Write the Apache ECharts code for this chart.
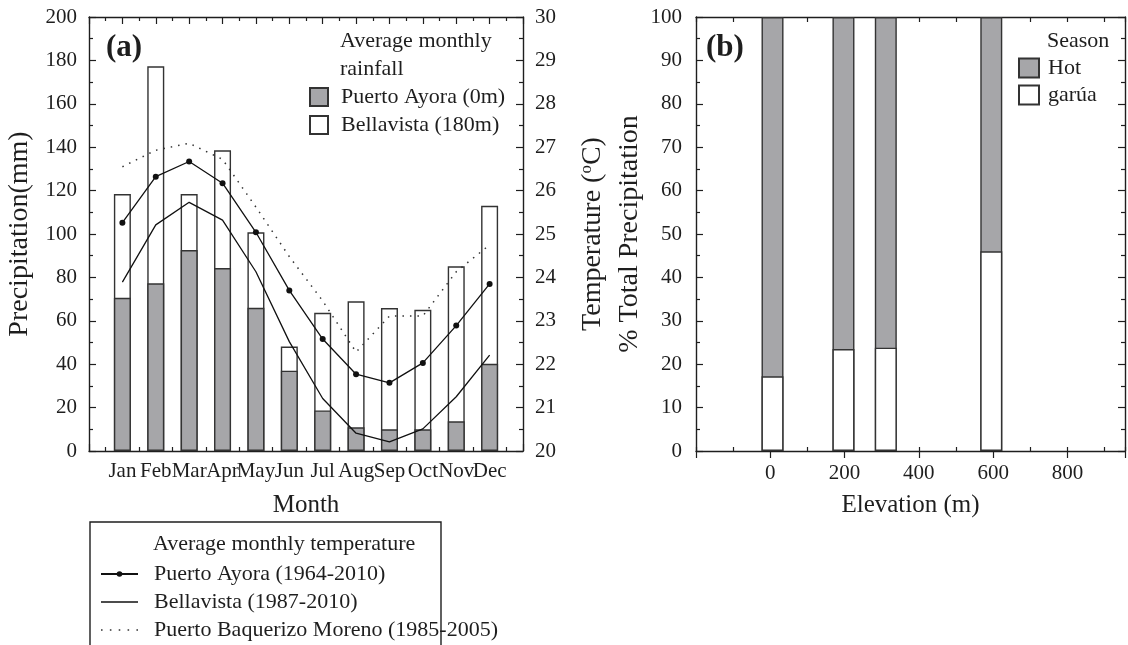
<!DOCTYPE html>
<html>
<head>
<meta charset="utf-8">
<script src="https://cdn.jsdelivr.net/npm/echarts@6/dist/echarts.min.js"></script>
<style>
  html, body { margin: 0; padding: 0; background: #fff; }
  #chart { width: 1128px; height: 645px; }
</style>
</head>
<body>
<div id="chart"></div>
<script>
// Panel (a): monthly climate
const months = ['Jan', 'Feb', 'Mar', 'Apr', 'May', 'Jun', 'Jul', 'Aug', 'Sep', 'Oct', 'Nov', 'Dec'];
const rainAyora = [70.6, 77.3, 92.6, 84.3, 66.0, 37.0, 18.7, 10.9, 10.0, 10.0, 13.7, 40.2];
const rainBellavista = [118.4, 177.3, 118.4, 138.6, 100.8, 48.1, 63.7, 69.0, 65.9, 65.1, 85.1, 113.0];
const tempAyora = [25.26, 26.32, 26.67, 26.17, 25.04, 23.70, 22.58, 21.77, 21.57, 22.03, 22.89, 23.85];
const tempBellavista = [23.89, 25.21, 25.73, 25.32, 24.13, 22.52, 21.21, 20.41, 20.21, 20.51, 21.25, 22.21];
const tempBaquerizo = [26.55, 26.93, 27.09, 26.72, 25.62, 24.48, 23.46, 22.28, 23.11, 23.11, 24.13, 24.75];

// Panel (b): share of rainfall by season at each elevation
const elevations = [6, 197, 311, 595];
const hotPct = [82.8, 76.5, 76.2, 54.0];
const garuaPct = [17.2, 23.5, 23.8, 46.0];

const FONT = '"Liberation Serif", "Times New Roman", serif';
const INK = '#1e1e1e';
const GREY = '#a6a6a9';
const EDGE = '#333';

const pairs = (xs, ys) => ys.map((v, i) => [xs[i], v]);
const monthPos = months.map((m, i) => i + 1);
// Hot share sits on top of the garúa share, so its bar reaches the running total
const hotTop = hotPct.map((v, i) => v + garuaPct[i]);

const axisLine = { show: true, onZero: false, lineStyle: { color: INK, width: 1.4 } };
const tickStyle = { color: INK, width: 1.2 };
const label = { color: INK, fontFamily: FONT, fontSize: 21 };
const nameStyle = { color: INK, fontFamily: FONT, fontSize: 25 };
const yNameStyle = { color: INK, fontFamily: FONT, fontSize: 28 };

// Legend glyphs for the plain and dotted temperature lines
const solidIcon = 'path://M0,0h37v1.3h-37z';
const dottedIcon = 'path://M0,0h1.6v1.6h-1.6z M9,0h1.6v1.6h-1.6z M18,0h1.6v1.6h-1.6z M27,0h1.6v1.6h-1.6z M36,0h1.6v1.6h-1.6z';

const chart = echarts.init(document.getElementById('chart'), null, { renderer: 'canvas' });

chart.setOption({
  animation: false,
  backgroundColor: '#fff',
  textStyle: { fontFamily: FONT, color: INK },
  grid: [
    { left: 89, top: 17, width: 434, height: 434 },
    { left: 696, top: 17, width: 433, height: 434 }
  ],
  xAxis: [
    { // (a) bottom
      type: 'value', gridIndex: 0, min: 0, max: 13, interval: 1,
      axisLine, splitLine: { show: false },
      axisTick: { inside: true, length: 7, lineStyle: tickStyle },
      minorTick: { show: true, splitNumber: 2, length: 4, lineStyle: tickStyle },
      axisLabel: Object.assign({}, label, { margin: 10, formatter: v => (v >= 1 && v <= 12) ? months[v - 1] : '' }),
      name: 'Month', nameLocation: 'middle', nameGap: 42, nameTextStyle: nameStyle
    },
    { // (a) top
      type: 'value', gridIndex: 0, position: 'top', min: 0, max: 13, interval: 1,
      axisLine, splitLine: { show: false },
      axisTick: { inside: true, length: 7, lineStyle: tickStyle },
      minorTick: { show: true, splitNumber: 2, length: 4, lineStyle: tickStyle },
      axisLabel: { show: false }
    },
    { // (b) bottom
      type: 'value', gridIndex: 1, min: -200, max: 955, interval: 100,
      axisLine, splitLine: { show: false },
      axisTick: { inside: true, length: 4, lineStyle: tickStyle },
      axisLabel: Object.assign({}, label, { margin: 12, formatter: v => (v >= 0 && v <= 800 && v % 200 === 0) ? String(v) : '' }),
      name: 'Elevation (m)', nameLocation: 'middle', nameGap: 42, nameTextStyle: nameStyle
    },
    { // (b) bottom, longer ticks every 200 m
      type: 'value', gridIndex: 1, min: -200, max: 955, interval: 200,
      axisLine: { show: false }, splitLine: { show: false },
      axisTick: { inside: true, length: 7, lineStyle: tickStyle },
      axisLabel: { show: false }
    },
    { // (b) top
      type: 'value', gridIndex: 1, position: 'top', min: -200, max: 955, interval: 100,
      axisLine, splitLine: { show: false },
      axisTick: { inside: true, length: 5, lineStyle: tickStyle },
      axisLabel: { show: false }
    }
  ],
  yAxis: [
    { // (a) precipitation
      type: 'value', gridIndex: 0, min: 0, max: 200, interval: 20,
      axisLine, splitLine: { show: false },
      axisTick: { inside: true, length: 7, lineStyle: tickStyle },
      minorTick: { show: true, splitNumber: 2, length: 4, lineStyle: tickStyle },
      axisLabel: Object.assign({}, label, { margin: 12 }),
      name: 'Precipitation(mm)', nameLocation: 'middle', nameGap: 55, nameTextStyle: yNameStyle
    },
    { // (a) temperature
      type: 'value', gridIndex: 0, position: 'right', min: 20, max: 30, interval: 1,
      axisLine, splitLine: { show: false },
      axisTick: { inside: true, length: 7, lineStyle: tickStyle },
      minorTick: { show: true, splitNumber: 2, length: 4, lineStyle: tickStyle },
      axisLabel: Object.assign({}, label, { margin: 12 }),
      name: 'Temperature ({sup|o}C)', nameLocation: 'middle', nameGap: 55,
      nameTextStyle: Object.assign({}, yNameStyle, {
        rich: { sup: { fontFamily: FONT, fontSize: 17, color: INK, verticalAlign: 'top', padding: [0, 0, 13, 0] } }
      })
    },
    { // (b) percent
      type: 'value', gridIndex: 1, min: 0, max: 100, interval: 10,
      axisLine, splitLine: { show: false },
      axisTick: { inside: true, length: 7, lineStyle: tickStyle },
      minorTick: { show: true, splitNumber: 2, length: 4, lineStyle: tickStyle },
      axisLabel: Object.assign({}, label, { margin: 14 }),
      name: '% Total Precipitation', nameLocation: 'middle', nameGap: 52, nameTextStyle: yNameStyle
    },
    { // (b) right frame
      type: 'value', gridIndex: 1, position: 'right', min: 0, max: 100, interval: 10,
      axisLine, splitLine: { show: false },
      axisTick: { inside: true, length: 7, lineStyle: tickStyle },
      minorTick: { show: true, splitNumber: 2, length: 4, lineStyle: tickStyle },
      axisLabel: { show: false }
    }
  ],
  legend: [
    {
      data: ['Puerto Ayora (0m)', 'Bellavista (180m)'],
      orient: 'vertical', left: 309, top: 86, padding: 0,
      itemWidth: 18, itemHeight: 18, itemGap: 6, icon: 'rect',
      selectedMode: false,
      textStyle: { fontFamily: FONT, fontSize: 22, color: INK, lineHeight: 22, padding: [0, 0, 0, 8] }
    },
    {
      data: [
        { name: 'Puerto Ayora (1964-2010)' },
        { name: 'Bellavista (1987-2010)', icon: solidIcon },
        { name: 'Puerto Baquerizo Moreno (1985-2005)', icon: dottedIcon }
      ],
      orient: 'vertical', left: 100, top: 563, padding: 0,
      itemWidth: 37, itemHeight: 7, itemGap: 6,
      selectedMode: false,
      textStyle: { fontFamily: FONT, fontSize: 22, color: INK, lineHeight: 22, padding: [0, 0, 0, 11] }
    },
    {
      data: ['Hot', 'garúa'],
      orient: 'vertical', left: 1018, top: 57, padding: 0,
      itemWidth: 20, itemHeight: 19, itemGap: 5, icon: 'rect',
      selectedMode: false,
      textStyle: { fontFamily: FONT, fontSize: 22, color: INK, lineHeight: 22, padding: [0, 0, 0, 4] }
    }
  ],
  graphic: [
    { type: 'text', left: 106, top: 32, style: { text: '(a)', font: 'bold 31px "Liberation Serif"', fill: INK } },
    { type: 'text', left: 706, top: 32, style: { text: '(b)', font: 'bold 31px "Liberation Serif"', fill: INK } },
    { type: 'text', left: 340, top: 30, style: { text: 'Average monthly', font: '22px "Liberation Serif"', fill: INK } },
    { type: 'text', left: 340, top: 58, style: { text: 'rainfall', font: '22px "Liberation Serif"', fill: INK } },
    { type: 'text', left: 1047, top: 30, style: { text: 'Season', font: '22px "Liberation Serif"', fill: INK } },
    { type: 'rect', shape: { x: 90, y: 522, width: 351, height: 140 }, style: { fill: 'none', stroke: INK, lineWidth: 1.4 } },
    { type: 'text', left: 153, top: 533, style: { text: 'Average monthly temperature', font: '22px "Liberation Serif"', fill: INK } }
  ],
  series: [
    {
      name: 'Bellavista (180m)', type: 'bar', xAxisIndex: 0, yAxisIndex: 0,
      data: pairs(monthPos, rainBellavista), barWidth: 17, barGap: '-100%',
      itemStyle: { color: '#fff', borderColor: EDGE, borderWidth: 1.4 }
    },
    {
      name: 'Puerto Ayora (0m)', type: 'bar', xAxisIndex: 0, yAxisIndex: 0,
      data: pairs(monthPos, rainAyora), barWidth: 17, barGap: '-100%',
      itemStyle: { color: GREY, borderColor: EDGE, borderWidth: 1.4 }
    },
    {
      name: 'Puerto Ayora (1964-2010)', type: 'line', xAxisIndex: 0, yAxisIndex: 1,
      data: pairs(monthPos, tempAyora), symbol: 'circle', symbolSize: 6,
      itemStyle: { color: '#111' }, lineStyle: { color: '#111', width: 1.3 }
    },
    {
      name: 'Bellavista (1987-2010)', type: 'line', xAxisIndex: 0, yAxisIndex: 1,
      data: pairs(monthPos, tempBellavista), symbol: 'none',
      itemStyle: { color: '#111' }, lineStyle: { color: '#111', width: 1.3 }
    },
    {
      name: 'Puerto Baquerizo Moreno (1985-2005)', type: 'line', xAxisIndex: 0, yAxisIndex: 1,
      data: pairs(monthPos, tempBaquerizo), symbol: 'none',
      itemStyle: { color: '#333' }, lineStyle: { color: '#333', width: 1.5, type: [1.5, 6] }
    },
    {
      name: 'Hot', type: 'bar', xAxisIndex: 2, yAxisIndex: 2,
      data: pairs(elevations, hotTop), barWidth: 22, barGap: '-100%',
      itemStyle: { color: GREY, borderColor: EDGE, borderWidth: 1.4 }
    },
    {
      name: 'garúa', type: 'bar', xAxisIndex: 2, yAxisIndex: 2,
      data: pairs(elevations, garuaPct), barWidth: 22, barGap: '-100%',
      itemStyle: { color: '#fff', borderColor: EDGE, borderWidth: 1.4 }
    }
  ]
});
</script>
</body>
</html>
